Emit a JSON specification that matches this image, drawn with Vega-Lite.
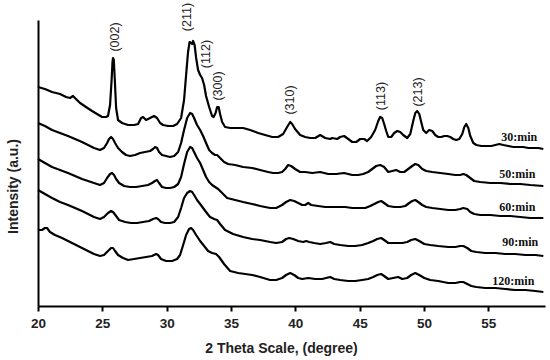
{
  "$schema": "https://vega.github.io/schema/vega-lite/v6.json",
  "width": 507,
  "height": 286,
  "autosize": "none",
  "padding": {"left": 38, "top": 20, "right": 5, "bottom": 54},
  "background": "white",
  "config": {"view": {"stroke": null}},
  "datasets": {
    "curves": [
      {"s":"30","x":20.00,"y":219},{"s":"30","x":20.54,"y":217},{"s":"30","x":21.09,"y":214},{"s":"30","x":21.71,"y":212},{"s":"30","x":22.18,"y":209},{"s":"30","x":22.49,"y":208},{"s":"30","x":22.72,"y":210},{"s":"30","x":22.95,"y":207},{"s":"30","x":23.27,"y":203},{"s":"30","x":23.73,"y":199},{"s":"30","x":24.20,"y":195},{"s":"30","x":24.59,"y":192},{"s":"30","x":24.98,"y":189},{"s":"30","x":25.29,"y":189},{"s":"30","x":25.44,"y":190},{"s":"30","x":25.60,"y":201},{"s":"30","x":25.72,"y":226},{"s":"30","x":25.79,"y":244},{"s":"30","x":25.83,"y":248},{"s":"30","x":25.89,"y":246},{"s":"30","x":25.97,"y":226},{"s":"30","x":26.07,"y":198},{"s":"30","x":26.22,"y":186},{"s":"30","x":26.53,"y":183},{"s":"30","x":27.00,"y":181},{"s":"30","x":27.47,"y":181},{"s":"30","x":27.78,"y":182},{"s":"30","x":28.01,"y":188},{"s":"30","x":28.16,"y":189},{"s":"30","x":28.40,"y":186},{"s":"30","x":28.71,"y":188},{"s":"30","x":29.02,"y":190},{"s":"30","x":29.25,"y":188},{"s":"30","x":29.49,"y":183},{"s":"30","x":29.72,"y":181},{"s":"30","x":30.11,"y":180},{"s":"30","x":30.50,"y":180},{"s":"30","x":30.81,"y":182},{"s":"30","x":31.12,"y":188},{"s":"30","x":31.35,"y":206},{"s":"30","x":31.51,"y":231},{"s":"30","x":31.66,"y":254},{"s":"30","x":31.78,"y":264},{"s":"30","x":31.90,"y":263},{"s":"30","x":31.98,"y":262},{"s":"30","x":32.05,"y":265},{"s":"30","x":32.17,"y":261},{"s":"30","x":32.29,"y":248},{"s":"30","x":32.44,"y":236},{"s":"30","x":32.60,"y":231},{"s":"30","x":32.75,"y":228},{"s":"30","x":32.91,"y":221},{"s":"30","x":33.06,"y":210},{"s":"30","x":33.30,"y":199},{"s":"30","x":33.53,"y":190},{"s":"30","x":33.65,"y":189},{"s":"30","x":33.80,"y":193},{"s":"30","x":33.92,"y":199},{"s":"30","x":34.04,"y":199},{"s":"30","x":34.15,"y":192},{"s":"30","x":34.31,"y":184},{"s":"30","x":34.54,"y":179},{"s":"30","x":34.93,"y":178},{"s":"30","x":35.47,"y":178},{"s":"30","x":35.94,"y":178},{"s":"30","x":36.49,"y":176},{"s":"30","x":37.11,"y":173},{"s":"30","x":37.65,"y":171},{"s":"30","x":38.20,"y":169},{"s":"30","x":38.66,"y":169},{"s":"30","x":39.05,"y":172},{"s":"30","x":39.36,"y":179},{"s":"30","x":39.60,"y":184},{"s":"30","x":39.75,"y":182},{"s":"30","x":39.98,"y":177},{"s":"30","x":40.37,"y":171},{"s":"30","x":40.76,"y":169},{"s":"30","x":41.15,"y":168},{"s":"30","x":41.54,"y":168},{"s":"30","x":41.93,"y":171},{"s":"30","x":42.32,"y":168},{"s":"30","x":42.71,"y":167},{"s":"30","x":42.86,"y":168},{"s":"30","x":43.25,"y":167},{"s":"30","x":43.48,"y":169},{"s":"30","x":43.79,"y":170},{"s":"30","x":44.11,"y":167},{"s":"30","x":44.42,"y":164},{"s":"30","x":44.73,"y":164},{"s":"30","x":45.04,"y":167},{"s":"30","x":45.35,"y":167},{"s":"30","x":45.58,"y":165},{"s":"30","x":45.89,"y":169},{"s":"30","x":46.20,"y":176},{"s":"30","x":46.44,"y":185},{"s":"30","x":46.59,"y":189},{"s":"30","x":46.75,"y":188},{"s":"30","x":46.90,"y":182},{"s":"30","x":47.06,"y":175},{"s":"30","x":47.22,"y":169},{"s":"30","x":47.45,"y":169},{"s":"30","x":47.68,"y":173},{"s":"30","x":47.92,"y":175},{"s":"30","x":48.15,"y":174},{"s":"30","x":48.38,"y":171},{"s":"30","x":48.69,"y":168},{"s":"30","x":48.93,"y":172},{"s":"30","x":49.16,"y":185},{"s":"30","x":49.32,"y":193},{"s":"30","x":49.47,"y":195},{"s":"30","x":49.63,"y":192},{"s":"30","x":49.78,"y":184},{"s":"30","x":49.94,"y":176},{"s":"30","x":50.17,"y":173},{"s":"30","x":50.40,"y":176},{"s":"30","x":50.64,"y":175},{"s":"30","x":50.87,"y":171},{"s":"30","x":51.10,"y":169},{"s":"30","x":51.34,"y":169},{"s":"30","x":51.57,"y":170},{"s":"30","x":51.80,"y":170},{"s":"30","x":52.04,"y":169},{"s":"30","x":52.27,"y":167},{"s":"30","x":52.50,"y":166},{"s":"30","x":52.74,"y":167},{"s":"30","x":52.97,"y":172},{"s":"30","x":53.13,"y":179},{"s":"30","x":53.28,"y":182},{"s":"30","x":53.44,"y":178},{"s":"30","x":53.59,"y":170},{"s":"30","x":53.83,"y":163},{"s":"30","x":54.06,"y":161},{"s":"30","x":54.45,"y":160},{"s":"30","x":54.84,"y":160},{"s":"30","x":55.23,"y":160},{"s":"30","x":55.54,"y":161},{"s":"30","x":55.85,"y":162},{"s":"30","x":56.16,"y":161},{"s":"30","x":56.55,"y":160},{"s":"30","x":56.94,"y":159},{"s":"30","x":57.32,"y":159},{"s":"30","x":57.71,"y":159},{"s":"30","x":58.10,"y":158},{"s":"30","x":58.57,"y":158},{"s":"30","x":58.88,"y":158},{"s":"30","x":59.27,"y":157},
      {"s":"50","x":20.00,"y":183},{"s":"50","x":20.54,"y":180},{"s":"50","x":21.09,"y":176},{"s":"50","x":21.71,"y":173},{"s":"50","x":22.33,"y":170},{"s":"50","x":22.88,"y":167},{"s":"50","x":23.42,"y":164},{"s":"50","x":23.89,"y":161},{"s":"50","x":24.35,"y":158},{"s":"50","x":24.82,"y":156},{"s":"50","x":25.13,"y":158},{"s":"50","x":25.37,"y":163},{"s":"50","x":25.52,"y":167},{"s":"50","x":25.68,"y":169},{"s":"50","x":25.83,"y":167},{"s":"50","x":25.99,"y":163},{"s":"50","x":26.22,"y":158},{"s":"50","x":26.53,"y":154},{"s":"50","x":26.84,"y":151},{"s":"50","x":27.15,"y":150},{"s":"50","x":27.54,"y":151},{"s":"50","x":27.93,"y":153},{"s":"50","x":28.32,"y":154},{"s":"50","x":28.71,"y":155},{"s":"50","x":28.94,"y":157},{"s":"50","x":29.10,"y":159},{"s":"50","x":29.25,"y":158},{"s":"50","x":29.41,"y":154},{"s":"50","x":29.64,"y":151},{"s":"50","x":29.95,"y":150},{"s":"50","x":30.26,"y":149},{"s":"50","x":30.58,"y":150},{"s":"50","x":30.89,"y":154},{"s":"50","x":31.12,"y":163},{"s":"50","x":31.35,"y":176},{"s":"50","x":31.59,"y":188},{"s":"50","x":31.82,"y":193},{"s":"50","x":31.98,"y":192},{"s":"50","x":32.13,"y":188},{"s":"50","x":32.36,"y":181},{"s":"50","x":32.60,"y":176},{"s":"50","x":32.83,"y":170},{"s":"50","x":33.06,"y":163},{"s":"50","x":33.30,"y":156},{"s":"50","x":33.53,"y":153},{"s":"50","x":33.76,"y":151},{"s":"50","x":33.92,"y":151},{"s":"50","x":34.15,"y":148},{"s":"50","x":34.46,"y":144},{"s":"50","x":34.77,"y":142},{"s":"50","x":35.32,"y":141},{"s":"50","x":35.94,"y":139},{"s":"50","x":36.64,"y":138},{"s":"50","x":37.26,"y":136},{"s":"50","x":37.88,"y":134},{"s":"50","x":38.27,"y":133},{"s":"50","x":38.66,"y":133},{"s":"50","x":38.97,"y":134},{"s":"50","x":39.21,"y":137},{"s":"50","x":39.44,"y":141},{"s":"50","x":39.67,"y":140},{"s":"50","x":39.98,"y":137},{"s":"50","x":40.37,"y":134},{"s":"50","x":40.76,"y":134},{"s":"50","x":41.31,"y":133},{"s":"50","x":41.93,"y":134},{"s":"50","x":42.55,"y":132},{"s":"50","x":43.17,"y":132},{"s":"50","x":43.79,"y":133},{"s":"50","x":44.42,"y":131},{"s":"50","x":44.88,"y":131},{"s":"50","x":45.27,"y":132},{"s":"50","x":45.66,"y":134},{"s":"50","x":45.97,"y":137},{"s":"50","x":46.28,"y":140},{"s":"50","x":46.59,"y":141},{"s":"50","x":46.90,"y":139},{"s":"50","x":47.22,"y":134},{"s":"50","x":47.53,"y":135},{"s":"50","x":47.84,"y":136},{"s":"50","x":48.15,"y":134},{"s":"50","x":48.46,"y":134},{"s":"50","x":48.77,"y":137},{"s":"50","x":49.08,"y":140},{"s":"50","x":49.32,"y":142},{"s":"50","x":49.55,"y":141},{"s":"50","x":49.86,"y":137},{"s":"50","x":50.17,"y":135},{"s":"50","x":50.64,"y":134},{"s":"50","x":51.26,"y":133},{"s":"50","x":51.88,"y":132},{"s":"50","x":52.43,"y":131},{"s":"50","x":52.81,"y":131},{"s":"50","x":53.05,"y":132},{"s":"50","x":53.28,"y":131},{"s":"50","x":53.59,"y":128},{"s":"50","x":53.90,"y":125},{"s":"50","x":54.37,"y":124},{"s":"50","x":55.15,"y":123},{"s":"50","x":55.93,"y":123},{"s":"50","x":56.70,"y":122},{"s":"50","x":57.48,"y":122},{"s":"50","x":58.26,"y":121},{"s":"50","x":59.27,"y":120},
      {"s":"60","x":20.00,"y":147},{"s":"60","x":20.54,"y":143},{"s":"60","x":21.09,"y":139},{"s":"60","x":21.71,"y":136},{"s":"60","x":22.33,"y":133},{"s":"60","x":22.88,"y":130},{"s":"60","x":23.42,"y":127},{"s":"60","x":23.89,"y":125},{"s":"60","x":24.35,"y":123},{"s":"60","x":24.82,"y":121},{"s":"60","x":25.13,"y":123},{"s":"60","x":25.37,"y":128},{"s":"60","x":25.60,"y":132},{"s":"60","x":25.75,"y":133},{"s":"60","x":25.91,"y":131},{"s":"60","x":26.07,"y":127},{"s":"60","x":26.30,"y":123},{"s":"60","x":26.69,"y":120},{"s":"60","x":27.15,"y":119},{"s":"60","x":27.62,"y":119},{"s":"60","x":28.09,"y":120},{"s":"60","x":28.55,"y":121},{"s":"60","x":28.86,"y":123},{"s":"60","x":29.10,"y":125},{"s":"60","x":29.25,"y":126},{"s":"60","x":29.41,"y":123},{"s":"60","x":29.64,"y":119},{"s":"60","x":29.95,"y":118},{"s":"60","x":30.26,"y":118},{"s":"60","x":30.58,"y":119},{"s":"60","x":30.89,"y":122},{"s":"60","x":31.12,"y":129},{"s":"60","x":31.35,"y":142},{"s":"60","x":31.59,"y":154},{"s":"60","x":31.82,"y":159},{"s":"60","x":31.98,"y":158},{"s":"60","x":32.13,"y":154},{"s":"60","x":32.36,"y":148},{"s":"60","x":32.60,"y":143},{"s":"60","x":32.83,"y":136},{"s":"60","x":33.06,"y":129},{"s":"60","x":33.30,"y":124},{"s":"60","x":33.53,"y":121},{"s":"60","x":33.76,"y":119},{"s":"60","x":34.00,"y":117},{"s":"60","x":34.31,"y":113},{"s":"60","x":34.70,"y":108},{"s":"60","x":35.32,"y":106},{"s":"60","x":35.94,"y":104},{"s":"60","x":36.64,"y":102},{"s":"60","x":37.26,"y":100},{"s":"60","x":38.04,"y":98},{"s":"60","x":38.51,"y":98},{"s":"60","x":38.97,"y":101},{"s":"60","x":39.28,"y":104},{"s":"60","x":39.60,"y":106},{"s":"60","x":39.91,"y":105},{"s":"60","x":40.22,"y":103},{"s":"60","x":40.53,"y":101},{"s":"60","x":40.76,"y":101},{"s":"60","x":41.00,"y":103},{"s":"60","x":41.23,"y":101},{"s":"60","x":41.77,"y":100},{"s":"60","x":42.32,"y":99},{"s":"60","x":42.86,"y":99},{"s":"60","x":43.33,"y":99},{"s":"60","x":43.87,"y":99},{"s":"60","x":44.42,"y":98},{"s":"60","x":44.88,"y":98},{"s":"60","x":45.43,"y":98},{"s":"60","x":45.82,"y":100},{"s":"60","x":46.13,"y":102},{"s":"60","x":46.44,"y":104},{"s":"60","x":46.67,"y":105},{"s":"60","x":46.90,"y":103},{"s":"60","x":47.22,"y":100},{"s":"60","x":47.68,"y":99},{"s":"60","x":48.15,"y":99},{"s":"60","x":48.54,"y":100},{"s":"60","x":48.85,"y":103},{"s":"60","x":49.08,"y":105},{"s":"60","x":49.32,"y":106},{"s":"60","x":49.55,"y":104},{"s":"60","x":49.86,"y":101},{"s":"60","x":50.17,"y":99},{"s":"60","x":50.64,"y":98},{"s":"60","x":51.26,"y":97},{"s":"60","x":51.88,"y":96},{"s":"60","x":52.43,"y":96},{"s":"60","x":52.81,"y":97},{"s":"60","x":53.05,"y":98},{"s":"60","x":53.36,"y":97},{"s":"60","x":53.59,"y":94},{"s":"60","x":53.90,"y":92},{"s":"60","x":54.37,"y":91},{"s":"60","x":55.15,"y":91},{"s":"60","x":55.93,"y":90},{"s":"60","x":56.70,"y":90},{"s":"60","x":57.48,"y":89},{"s":"60","x":58.26,"y":88},{"s":"60","x":59.27,"y":88},
      {"s":"90","x":20.00,"y":116},{"s":"90","x":20.54,"y":112},{"s":"90","x":21.09,"y":108},{"s":"90","x":21.71,"y":104},{"s":"90","x":22.33,"y":101},{"s":"90","x":22.88,"y":98},{"s":"90","x":23.42,"y":95},{"s":"90","x":23.89,"y":92},{"s":"90","x":24.35,"y":89},{"s":"90","x":24.82,"y":87},{"s":"90","x":25.13,"y":89},{"s":"90","x":25.44,"y":93},{"s":"90","x":25.68,"y":95},{"s":"90","x":25.83,"y":94},{"s":"90","x":26.07,"y":90},{"s":"90","x":26.30,"y":86},{"s":"90","x":26.77,"y":84},{"s":"90","x":27.23,"y":83},{"s":"90","x":27.70,"y":83},{"s":"90","x":28.16,"y":84},{"s":"90","x":28.63,"y":85},{"s":"90","x":28.94,"y":87},{"s":"90","x":29.18,"y":88},{"s":"90","x":29.33,"y":87},{"s":"90","x":29.56,"y":84},{"s":"90","x":29.88,"y":83},{"s":"90","x":30.26,"y":83},{"s":"90","x":30.58,"y":84},{"s":"90","x":30.89,"y":89},{"s":"90","x":31.12,"y":98},{"s":"90","x":31.35,"y":108},{"s":"90","x":31.59,"y":113},{"s":"90","x":31.82,"y":115},{"s":"90","x":31.98,"y":114},{"s":"90","x":32.13,"y":111},{"s":"90","x":32.36,"y":106},{"s":"90","x":32.60,"y":102},{"s":"90","x":32.83,"y":98},{"s":"90","x":33.06,"y":94},{"s":"90","x":33.37,"y":89},{"s":"90","x":33.69,"y":87},{"s":"90","x":33.92,"y":86},{"s":"90","x":34.15,"y":82},{"s":"90","x":34.54,"y":76},{"s":"90","x":35.16,"y":72},{"s":"90","x":35.94,"y":69},{"s":"90","x":36.64,"y":67},{"s":"90","x":37.26,"y":66},{"s":"90","x":38.04,"y":64},{"s":"90","x":38.51,"y":63},{"s":"90","x":38.97,"y":64},{"s":"90","x":39.28,"y":67},{"s":"90","x":39.52,"y":68},{"s":"90","x":39.83,"y":67},{"s":"90","x":40.22,"y":65},{"s":"90","x":40.61,"y":64},{"s":"90","x":40.84,"y":65},{"s":"90","x":41.07,"y":64},{"s":"90","x":41.46,"y":63},{"s":"90","x":41.93,"y":62},{"s":"90","x":42.39,"y":63},{"s":"90","x":42.71,"y":64},{"s":"90","x":43.02,"y":62},{"s":"90","x":43.48,"y":61},{"s":"90","x":44.11,"y":60},{"s":"90","x":44.65,"y":60},{"s":"90","x":45.19,"y":61},{"s":"90","x":45.66,"y":63},{"s":"90","x":46.05,"y":65},{"s":"90","x":46.36,"y":67},{"s":"90","x":46.67,"y":68},{"s":"90","x":46.90,"y":66},{"s":"90","x":47.22,"y":63},{"s":"90","x":47.76,"y":63},{"s":"90","x":48.31,"y":63},{"s":"90","x":48.69,"y":64},{"s":"90","x":49.00,"y":66},{"s":"90","x":49.32,"y":67},{"s":"90","x":49.63,"y":65},{"s":"90","x":50.02,"y":62},{"s":"90","x":50.48,"y":61},{"s":"90","x":51.10,"y":60},{"s":"90","x":51.88,"y":59},{"s":"90","x":52.43,"y":59},{"s":"90","x":52.81,"y":60},{"s":"90","x":53.05,"y":60},{"s":"90","x":53.36,"y":58},{"s":"90","x":53.67,"y":55},{"s":"90","x":54.06,"y":54},{"s":"90","x":54.76,"y":53},{"s":"90","x":55.54,"y":53},{"s":"90","x":56.31,"y":52},{"s":"90","x":57.09,"y":52},{"s":"90","x":57.87,"y":51},{"s":"90","x":58.65,"y":51},{"s":"90","x":59.27,"y":50},
      {"s":"120","x":20.00,"y":76},{"s":"120","x":20.31,"y":76},{"s":"120","x":20.54,"y":78},{"s":"120","x":20.70,"y":78},{"s":"120","x":20.93,"y":74},{"s":"120","x":21.32,"y":71},{"s":"120","x":21.87,"y":68},{"s":"120","x":22.49,"y":64},{"s":"120","x":23.11,"y":60},{"s":"120","x":23.73,"y":56},{"s":"120","x":24.35,"y":52},{"s":"120","x":24.82,"y":50},{"s":"120","x":25.13,"y":51},{"s":"120","x":25.44,"y":55},{"s":"120","x":25.68,"y":58},{"s":"120","x":25.83,"y":58},{"s":"120","x":25.99,"y":55},{"s":"120","x":26.22,"y":51},{"s":"120","x":26.61,"y":48},{"s":"120","x":27.00,"y":46},{"s":"120","x":27.47,"y":47},{"s":"120","x":27.93,"y":48},{"s":"120","x":28.40,"y":49},{"s":"120","x":28.86,"y":50},{"s":"120","x":29.18,"y":52},{"s":"120","x":29.33,"y":51},{"s":"120","x":29.56,"y":47},{"s":"120","x":29.95,"y":45},{"s":"120","x":30.42,"y":45},{"s":"120","x":30.81,"y":47},{"s":"120","x":31.04,"y":51},{"s":"120","x":31.28,"y":61},{"s":"120","x":31.51,"y":71},{"s":"120","x":31.74,"y":77},{"s":"120","x":31.90,"y":78},{"s":"120","x":32.05,"y":76},{"s":"120","x":32.29,"y":71},{"s":"120","x":32.60,"y":65},{"s":"120","x":32.91,"y":60},{"s":"120","x":33.22,"y":55},{"s":"120","x":33.53,"y":53},{"s":"120","x":33.84,"y":52},{"s":"120","x":34.07,"y":49},{"s":"120","x":34.46,"y":42},{"s":"120","x":34.93,"y":35},{"s":"120","x":35.55,"y":33},{"s":"120","x":36.10,"y":32},{"s":"120","x":36.64,"y":31},{"s":"120","x":37.26,"y":29},{"s":"120","x":38.04,"y":26},{"s":"120","x":38.51,"y":26},{"s":"120","x":38.97,"y":28},{"s":"120","x":39.28,"y":31},{"s":"120","x":39.60,"y":33},{"s":"120","x":39.91,"y":31},{"s":"120","x":40.22,"y":28},{"s":"120","x":40.53,"y":27},{"s":"120","x":41.00,"y":28},{"s":"120","x":41.54,"y":27},{"s":"120","x":42.08,"y":27},{"s":"120","x":42.39,"y":28},{"s":"120","x":42.71,"y":29},{"s":"120","x":43.02,"y":27},{"s":"120","x":43.48,"y":26},{"s":"120","x":44.11,"y":25},{"s":"120","x":44.65,"y":25},{"s":"120","x":45.19,"y":26},{"s":"120","x":45.66,"y":27},{"s":"120","x":46.05,"y":29},{"s":"120","x":46.36,"y":31},{"s":"120","x":46.67,"y":32},{"s":"120","x":46.90,"y":30},{"s":"120","x":47.22,"y":27},{"s":"120","x":47.60,"y":28},{"s":"120","x":47.99,"y":29},{"s":"120","x":48.31,"y":27},{"s":"120","x":48.69,"y":28},{"s":"120","x":49.00,"y":31},{"s":"120","x":49.32,"y":33},{"s":"120","x":49.63,"y":31},{"s":"120","x":50.02,"y":28},{"s":"120","x":50.48,"y":26},{"s":"120","x":51.10,"y":25},{"s":"120","x":51.88,"y":23},{"s":"120","x":52.43,"y":23},{"s":"120","x":52.81,"y":24},{"s":"120","x":53.05,"y":24},{"s":"120","x":53.36,"y":22},{"s":"120","x":53.67,"y":20},{"s":"120","x":54.06,"y":19},{"s":"120","x":54.76,"y":18},{"s":"120","x":55.54,"y":18},{"s":"120","x":56.31,"y":17},{"s":"120","x":57.09,"y":16},{"s":"120","x":57.87,"y":16},{"s":"120","x":58.65,"y":15},{"s":"120","x":59.27,"y":14}
    ],
    "peaks": [
      {"label":"(002)","x":25.99,"y":269},
      {"label":"(211)","x":31.59,"y":289},
      {"label":"(112)","x":33.06,"y":252},
      {"label":"(300)","x":34.00,"y":220},
      {"label":"(310)","x":39.60,"y":206},
      {"label":"(113)","x":46.67,"y":210},
      {"label":"(213)","x":49.55,"y":214}
    ],
    "series": [
      {"label":"30:min","x":57.40,"y":169},
      {"label":"50:min","x":57.25,"y":132},
      {"label":"60:min","x":57.25,"y":99},
      {"label":"90:min","x":57.48,"y":64},
      {"label":"120:min","x":56.94,"y":25}
    ]
  },
  "layer": [
    {
      "data": {"name": "curves"},
      "mark": {"type": "line", "color": "black", "strokeWidth": 2.2, "strokeJoin": "round"},
      "encoding": {
        "x": {
          "field": "x", "type": "quantitative",
          "scale": {"domain": [20, 59.4], "nice": false, "zero": false},
          "axis": {
            "title": "2 Theta Scale, (degree)",
            "values": [20, 22.5, 25, 27.5, 30, 32.5, 35, 37.5, 40, 42.5, 45, 47.5, 50, 52.5, 55, 57.5],
            "labelExpr": "datum.value % 5 == 0 ? datum.label : ''",
            "grid": false,
            "domainColor": "black", "domainWidth": 2,
            "tickColor": "black", "tickWidth": 2, "tickSize": 5,
            "labelFont": "Liberation Sans", "labelFontWeight": "bold", "labelFontSize": 13.5, "labelColor": "#222",
            "labelPadding": 5, "labelFlush": false,
            "titleFont": "Liberation Sans", "titleFontWeight": "bold", "titleFontSize": 14, "titleColor": "#222",
            "titleX": 243, "titleY": 46, "titleAlign": "center", "titleBaseline": "alphabetic"
          }
        },
        "y": {
          "field": "y", "type": "quantitative",
          "scale": {"domain": [0, 286], "nice": false, "zero": false},
          "axis": {
            "title": "Intensity (a.u.)",
            "ticks": false, "labels": false, "grid": false,
            "domainColor": "black", "domainWidth": 2,
            "titleFont": "Liberation Sans", "titleFontWeight": "bold", "titleFontSize": 14, "titleColor": "#222",
            "titleAngle": 270, "titleX": -25, "titleY": 166, "titleAlign": "center", "titleBaseline": "middle"
          }
        },
        "detail": {"field": "s", "type": "nominal"}
      }
    },
    {
      "data": {"name": "peaks"},
      "mark": {"type": "text", "angle": 270, "font": "Liberation Sans", "fontSize": 12.5, "color": "#222", "align": "center", "baseline": "middle"},
      "encoding": {
        "x": {"field": "x", "type": "quantitative"},
        "y": {"field": "y", "type": "quantitative"},
        "text": {"field": "label"}
      }
    },
    {
      "data": {"name": "series"},
      "mark": {"type": "text", "font": "Liberation Serif", "fontWeight": "bold", "fontSize": 12, "color": "#111", "align": "center", "baseline": "middle"},
      "encoding": {
        "x": {"field": "x", "type": "quantitative"},
        "y": {"field": "y", "type": "quantitative"},
        "text": {"field": "label"}
      }
    }
  ]
}
